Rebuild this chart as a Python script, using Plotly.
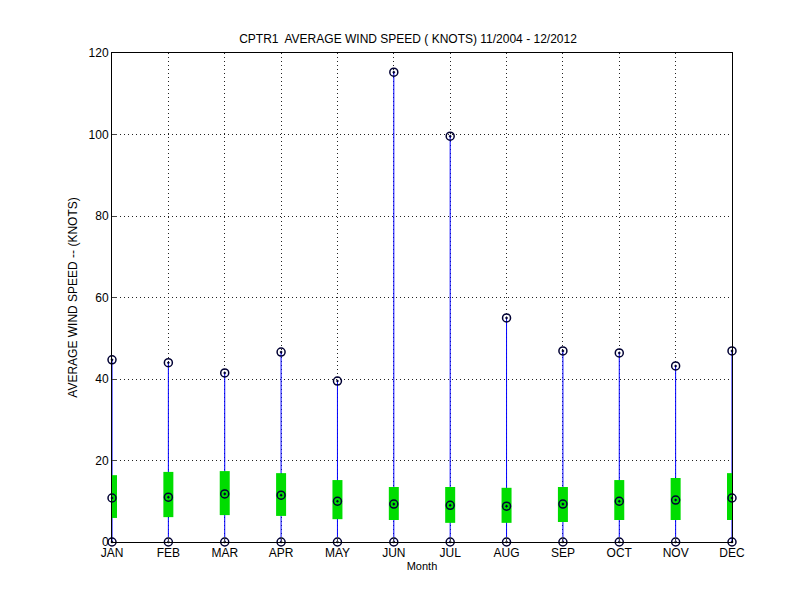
import plotly.graph_objects as go

months = ["JAN", "FEB", "MAR", "APR", "MAY", "JUN", "JUL", "AUG", "SEP", "OCT", "NOV", "DEC"]
max_speed = [44.7, 44.0, 41.5, 46.6, 39.5, 115.3, 99.6, 55.0, 46.9, 46.4, 43.2, 46.9]
mean_speed = [10.8, 11.0, 11.8, 11.5, 10.0, 9.3, 9.0, 8.8, 9.3, 10.0, 10.3, 10.8]
std_high = [16.4, 17.2, 17.4, 16.9, 15.2, 13.5, 13.5, 13.3, 13.5, 15.2, 15.7, 16.9]
std_low = [5.9, 6.1, 6.6, 6.4, 5.6, 5.4, 4.7, 4.7, 4.9, 5.4, 5.4, 5.4]
min_speed = [0, 0, 0, 0, 0, 0, 0, 0, 0, 0, 0, 0]

xs = list(range(1, 13))

fig = go.Figure()

# whiskers
wx, wy = [], []
for i, x in enumerate(xs):
    wx += [x, x, None]
    wy += [min_speed[i], max_speed[i], None]
fig.add_trace(go.Scatter(x=wx, y=wy, mode="lines", line=dict(color="#0000ff", width=1), showlegend=False))

# std boxes
bx, by = [], []
for i, x in enumerate(xs):
    bx += [x, x, None]
    by += [std_low[i], std_high[i], None]
fig.add_trace(go.Scatter(x=bx, y=by, mode="lines", line=dict(color="#00dd00", width=10), showlegend=False))

marker = dict(symbol="circle-open-dot", size=8, color="#000033", line=dict(width=1.5))
for vals in (max_speed, mean_speed, min_speed):
    fig.add_trace(go.Scatter(x=xs, y=vals, mode="markers", marker=marker, showlegend=False, cliponaxis=False))

axis_common = dict(showline=True, linecolor="black", mirror=True, ticks="inside", ticklen=5,
                   showgrid=True, gridcolor="#222222", griddash="1px,3px", gridwidth=1,
                   zeroline=False, automargin=False, tickfont=dict(size=12, color="black"))
fig.update_layout(
    width=800, height=600,
    paper_bgcolor="white", plot_bgcolor="white",
    margin=dict(l=104, r=76, t=45, b=66),
    font=dict(family="Liberation Sans, Arial, sans-serif", size=12, color="black"),
    title=dict(text="CPTR1  AVERAGE WIND SPEED ( KNOTS) 11/2004 - 12/2012", x=0.5, xanchor="center",
               y=0.955, font=dict(size=12)),
    xaxis=dict(axis_common, range=[1, 12], tickvals=xs, ticktext=months,
               title=dict(text="Month", standoff=2, font=dict(size=11))),
    yaxis=dict(axis_common, range=[0, 120], tickvals=list(range(0, 121, 20)),
               title=dict(text="AVERAGE WIND SPEED -- (KNOTS)", standoff=8, font=dict(size=12))),
)

fig.write_html("out.html")
